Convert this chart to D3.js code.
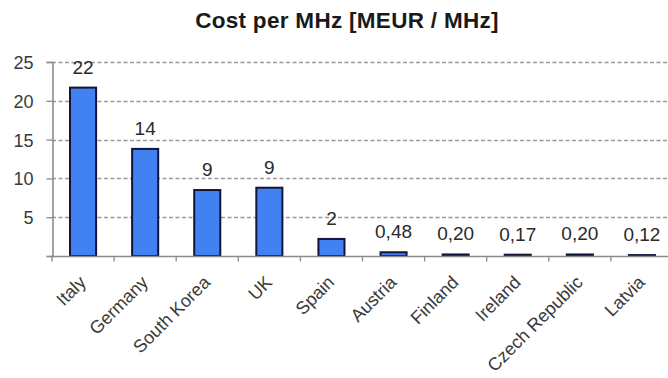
<!DOCTYPE html>
<html>
<head>
<meta charset="utf-8">
<script src="https://cdn.jsdelivr.net/npm/d3@7/dist/d3.min.js"></script>
<style>
  html, body { margin: 0; padding: 0; background: #fff; }
  svg { display: block; font-family: "Liberation Sans", Arial, sans-serif; }
</style>
</head>
<body>
<svg id="chart" width="668" height="378"></svg>
<script>
// Spectrum auction cost per MHz, by country
const countries = ["Italy", "Germany", "South Korea", "UK", "Spain", "Austria", "Finland", "Ireland", "Czech Republic", "Latvia"];
const costs = [21.7, 13.8, 8.5, 8.8, 2.2, 0.48, 0.20, 0.17, 0.20, 0.12];
const valueLabels = ["22", "14", "9", "9", "2", "0,48", "0,20", "0,17", "0,20", "0,12"];
const yTicks = [5, 10, 15, 20, 25];
const title = "Cost per MHz [MEUR / MHz]";

const svg = d3.select("#chart");
const margin = { left: 52, right: -5, top: 62, bottom: 122 };
const W = 668, H = 378;

const x = d3.scaleBand()
  .domain(countries)
  .range([margin.left, W - margin.right])
  .paddingInner(0.58)
  .paddingOuter(0.29);

const y = d3.scaleLinear()
  .domain([0, 25])
  .range([H - margin.bottom, margin.top]);

// Title
svg.append("text")
  .attr("x", 347)
  .attr("y", 28)
  .attr("text-anchor", "middle")
  .attr("font-size", 22.5)
  .attr("letter-spacing", 0.3)
  .attr("font-weight", "bold")
  .attr("fill", "#1a1a1a")
  .text(title);

// Dashed horizontal grid
svg.append("g")
  .selectAll("line")
  .data(yTicks)
  .join("line")
  .attr("x1", margin.left)
  .attr("x2", W)
  .attr("y1", d => Math.round(y(d)) + 0.5)
  .attr("y2", d => Math.round(y(d)) + 0.5)
  .attr("stroke", "#9a9a9a")
  .attr("stroke-width", 1.3)
  .attr("stroke-dasharray", "4,2.5");

// Y axis
const yAxis = d3.axisLeft(y)
  .tickValues([0].concat(yTicks))
  .tickSize(6)
  .tickFormat(d => d === 0 ? "" : d);
const gy = svg.append("g")
  .attr("transform", `translate(${margin.left + 0.5},0)`)
  .call(yAxis);
gy.select(".domain").attr("stroke", "#8c8c8c").attr("stroke-width", 1.6);
gy.selectAll(".tick line").attr("stroke", "#8c8c8c").attr("stroke-width", 1.3);
gy.selectAll(".tick text")
  .attr("font-size", 18)
  .attr("fill", "#3a3a3a")
  .attr("x", -19)
  .attr("dy", "0.36em")
  .style("font-family", "Liberation Sans, Arial, sans-serif");

// Bars
svg.append("g")
  .selectAll("rect")
  .data(countries)
  .join("rect")
  .attr("x", d => x(d))
  .attr("width", x.bandwidth())
  .attr("y", (d, i) => y(costs[i]))
  .attr("height", (d, i) => y(0) - y(costs[i]))
  .attr("fill", "#4181f2")
  .attr("stroke", "#14143a")
  .attr("stroke-width", 2);

// Baseline with category separators
const step = x.step();
const baseY = Math.round(y(0)) + 0.5;
svg.append("line")
  .attr("x1", margin.left).attr("x2", W)
  .attr("y1", baseY).attr("y2", baseY)
  .attr("stroke", "#8c8c8c").attr("stroke-width", 1.6);
svg.append("g")
  .selectAll("line")
  .data(countries)
  .join("line")
  .attr("x1", d => x(d) + x.bandwidth() / 2 - step / 2)
  .attr("x2", d => x(d) + x.bandwidth() / 2 - step / 2)
  .attr("y1", baseY).attr("y2", baseY + 5)
  .attr("stroke", "#8c8c8c").attr("stroke-width", 1.3);

// Value labels
svg.append("g")
  .selectAll("text")
  .data(countries)
  .join("text")
  .attr("x", d => x(d) + x.bandwidth() / 2)
  .attr("y", (d, i) => y(costs[i]) - 14)
  .attr("text-anchor", "middle")
  .attr("font-size", 19)
  .attr("fill", "#2a2a2a")
  .text((d, i) => valueLabels[i]);

// Rotated category labels
svg.append("g")
  .selectAll("text")
  .data(countries)
  .join("text")
  .attr("transform", d => `translate(${x(d) + x.bandwidth() / 2 + 4},${baseY + 27}) rotate(-45)`)
  .attr("text-anchor", "end")
  .attr("font-size", 18)
  .attr("fill", "#3a3a3a")
  .text(d => d);
</script>
</body>
</html>
